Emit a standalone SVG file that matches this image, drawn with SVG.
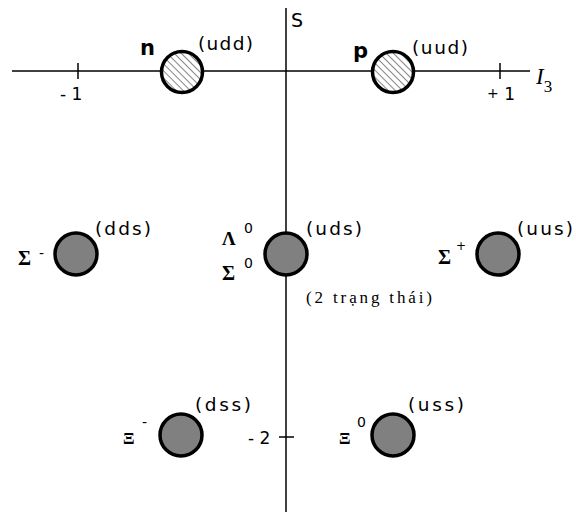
<svg xmlns="http://www.w3.org/2000/svg" width="576" height="512" viewBox="0 0 576 512">
<style>
.ax{stroke:#000;stroke-width:1.5;fill:none}
.b{stroke:#000;stroke-width:3.5}
.g{fill:#808080}
.q{font-family:"DejaVu Sans","Liberation Sans",sans-serif;font-size:18.5px;fill:#000}
.gr{font-family:"Liberation Serif",serif;font-weight:bold;font-size:20px;fill:#000}
.sup{font-family:"DejaVu Sans","Liberation Sans",sans-serif;font-size:14px;fill:#000}
.lb{font-family:"DejaVu Sans","Liberation Sans",sans-serif;font-weight:bold;font-size:21px;fill:#000}
.tk{font-family:"DejaVu Sans","Liberation Sans",sans-serif;font-size:17px;fill:#000}
</style>
<defs>
<pattern id="h" patternUnits="userSpaceOnUse" width="5" height="5" patternTransform="rotate(-45)">
<rect width="5" height="5" fill="#fff"/>
<line x1="0" y1="0" x2="0" y2="5" stroke="#555" stroke-width="1.4"/>
</pattern>
</defs>
<rect width="576" height="512" fill="#fff"/>
<g id="axes">
<line class="ax" x1="12" y1="71" x2="530" y2="71"/>
<line class="ax" x1="286" y1="8" x2="286" y2="512"/>
<line class="ax" x1="78" y1="63" x2="78" y2="79"/>
<line class="ax" x1="500" y1="63" x2="500" y2="79"/>
<line class="ax" x1="279" y1="437" x2="294" y2="437"/>
<text class="tk" x="60" y="100">- 1</text>
<text class="tk" x="487" y="100"><tspan dy="-2" style="font-size:14px">+</tspan><tspan dy="2"> 1</tspan></text>
<text class="tk" x="248" y="444">- 2</text>
<text x="291" y="27" style="font-family:'DejaVu Sans',sans-serif;font-size:19px">S</text>
<text x="536" y="84" style="font-family:'Liberation Serif',serif;font-style:italic;font-size:23px">I<tspan dy="8" font-size="17" font-style="normal">3</tspan></text>
</g>
<g id="n">
<circle class="b" cx="182" cy="72" r="20.5" fill="url(#h)"/>
<text class="lb" x="140" y="55">n</text>
<text class="q" x="198" y="50" textLength="55" lengthAdjust="spacing">(udd)</text>
</g>
<g id="p">
<circle class="b" cx="393" cy="72" r="20.5" fill="url(#h)"/>
<text class="lb" x="353" y="58">p</text>
<text class="q" x="412" y="54" textLength="56" lengthAdjust="spacing">(uud)</text>
</g>
<g id="sigma-minus">
<circle class="b g" cx="76" cy="254" r="21"/>
<text class="gr" x="18" y="265">Σ</text>
<text class="sup" x="39" y="258">-</text>
<text class="q" x="95" y="235" textLength="56" lengthAdjust="spacing">(dds)</text>
</g>
<g id="lambda-sigma0">
<circle class="b g" cx="286" cy="254" r="21"/>
<text class="gr" x="222" y="245" style="font-size:19px">Λ</text>
<text class="sup" x="244" y="233">0</text>
<text class="gr" x="222" y="280">Σ</text>
<text class="sup" x="244" y="268">0</text>
<text class="q" x="306" y="235" textLength="56" lengthAdjust="spacing">(uds)</text>
<text x="306" y="303" textLength="126" lengthAdjust="spacing" style="font-family:'Liberation Serif',serif;font-size:17px">(2 trạng thái)</text>
</g>
<g id="sigma-plus">
<circle class="b g" cx="498" cy="254" r="21"/>
<text class="gr" x="438" y="264">Σ</text>
<text class="sup" x="456" y="250" style="font-size:12px">+</text>
<text class="q" x="517" y="235" textLength="56" lengthAdjust="spacing">(uus)</text>
</g>
<g id="xi-minus">
<circle class="b g" cx="181" cy="435" r="21"/>
<text class="gr" x="123" y="444" style="font-size:17px">Ξ</text>
<text class="sup" x="142" y="427">-</text>
<text class="q" x="195" y="411" textLength="56" lengthAdjust="spacing">(dss)</text>
</g>
<g id="xi-zero">
<circle class="b g" cx="393" cy="435" r="21"/>
<text class="gr" x="339" y="444" style="font-size:17px">Ξ</text>
<text class="sup" x="357" y="427">0</text>
<text class="q" x="408" y="411" textLength="56" lengthAdjust="spacing">(uss)</text>
</g>
</svg>
